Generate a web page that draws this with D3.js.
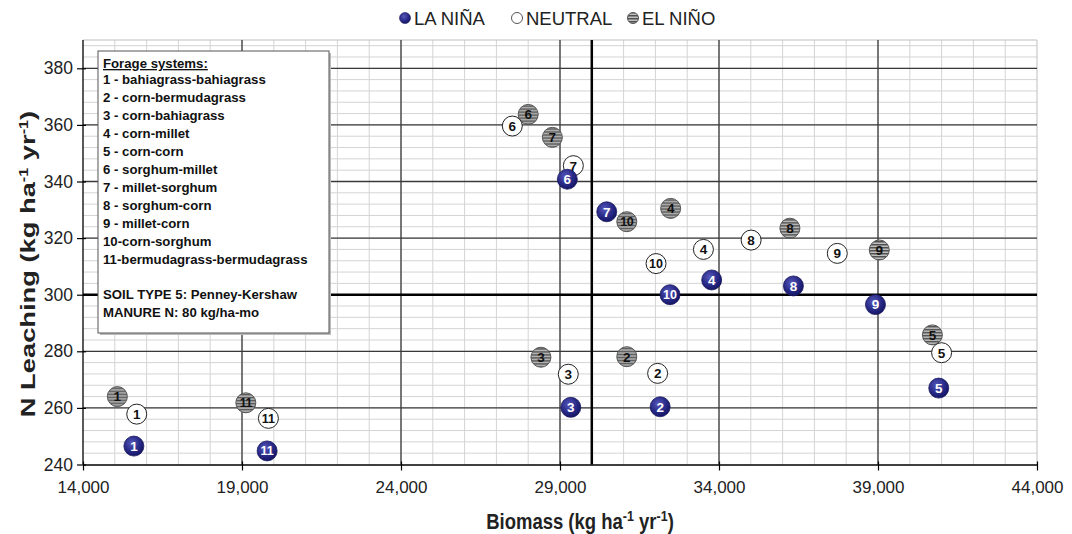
<!DOCTYPE html>
<html>
<head>
<meta charset="utf-8">
<script src="https://cdn.jsdelivr.net/npm/d3@7"></script>
<style>
  html, body { margin: 0; padding: 0; background: #fff; }
  svg { display: block; font-family: "Liberation Sans", Arial, sans-serif; }
</style>
</head>
<body>
<svg id="chart" width="1072" height="534"></svg>
<script>
// ---- data ----
const systems = ["1","2","3","4","5","6","7","8","9","10","11"];
const laNinaBiomass  = [15600, 32150, 29340, 33770, 40910, 29230, 30470, 36340, 38920, 32460, 19790];
const laNinaLeach    = [246.5, 260.4, 260.2, 305.2, 267.0, 340.8, 329.3, 303.1, 296.5, 300.0, 244.8];
const neutralBiomass = [15690, 32070, 29260, 33510, 41000, 27500, 29420, 35010, 37720, 32020, 19830];
const neutralLeach   = [257.8, 272.2, 271.9, 316.0, 279.5, 359.6, 345.6, 319.3, 314.6, 311.0, 256.3];
const elNinoBiomass  = [15080, 31100, 28400, 32480, 40710, 28000, 28760, 36230, 39040, 31100, 19120];
const elNinoLeach    = [264.0, 278.1, 277.9, 330.5, 285.8, 363.7, 355.6, 323.5, 315.8, 325.8, 261.8];
const xTicks = [14000, 19000, 24000, 29000, 34000, 39000, 44000];
const yTicks = [240, 260, 280, 300, 320, 340, 360, 380];
const legendLabels = ["LA NIÑA", "NEUTRAL", "EL NIÑO"];
const boxLines = [
  "1 - bahiagrass-bahiagrass",
  "2 - corn-bermudagrass",
  "3 - corn-bahiagrass",
  "4 - corn-millet",
  "5 - corn-corn",
  "6 - sorghum-millet",
  "7 - millet-sorghum",
  "8 - sorghum-corn",
  "9 - millet-corn",
  "10-corn-sorghum",
  "11-bermudagrass-bermudagrass"
];
const boxTitle = "Forage systems:";
const boxNotes = ["SOIL TYPE 5: Penney-Kershaw", "MANURE N: 80 kg/ha-mo"];

// ---- layout ----
const svg = d3.select("#chart");
const L = 83, R = 1037, T = 40, B = 464.5;
const x = d3.scaleLinear().domain([14000, 44000]).range([L, R]);
const y = d3.scaleLinear().domain([240, 390]).range([B, T]);

// defs
const defs = svg.append("defs");
const grad = defs.append("radialGradient").attr("id", "blueGrad")
  .attr("cx", "40%").attr("cy", "35%").attr("r", "65%");
grad.append("stop").attr("offset", "0%").attr("stop-color", "#5658bb");
grad.append("stop").attr("offset", "60%").attr("stop-color", "#2a2b88");
grad.append("stop").attr("offset", "100%").attr("stop-color", "#141566");
const pat = defs.append("pattern").attr("id", "stripes")
  .attr("patternUnits", "userSpaceOnUse").attr("width", 6).attr("height", 3);
pat.append("rect").attr("width", 6).attr("height", 3).attr("fill", "#c0c0c0");
pat.append("rect").attr("y", 0).attr("width", 6).attr("height", 1.5).attr("fill", "#505050");

// grid: minor
const g = svg.append("g");
g.selectAll(".vminor").data(d3.range(15000, 44000, 1000)).join("line")
  .attr("x1", d => x(d)).attr("x2", d => x(d)).attr("y1", T).attr("y2", B)
  .attr("stroke", "#d4d4d4").attr("stroke-width", 1);
g.selectAll(".hminor").data(d3.range(244, 390, 4)).join("line")
  .attr("x1", L).attr("x2", R).attr("y1", d => y(d)).attr("y2", d => y(d))
  .attr("stroke", "#d4d4d4").attr("stroke-width", 1);
g.append("line").attr("x1", L).attr("x2", R).attr("y1", T).attr("y2", T).attr("stroke", "#bfbfbf");
g.append("line").attr("x1", R).attr("x2", R).attr("y1", T).attr("y2", B).attr("stroke", "#bfbfbf");
// grid: major
g.selectAll(".vmajor").data(xTicks.slice(1, -1)).join("line")
  .attr("x1", d => x(d)).attr("x2", d => x(d)).attr("y1", T).attr("y2", B)
  .attr("stroke", "#3a3a3a").attr("stroke-width", 1.3);
g.selectAll(".hmajor").data(yTicks.slice(1).filter(v => v !== 300)).join("line")
  .attr("x1", L).attr("x2", R).attr("y1", d => y(d)).attr("y2", d => y(d))
  .attr("stroke", "#3a3a3a").attr("stroke-width", 1.3);
// thick reference lines
g.append("line").attr("x1", x(30000)).attr("x2", x(30000)).attr("y1", T).attr("y2", B)
  .attr("stroke", "#000").attr("stroke-width", 2.5);
g.append("line").attr("x1", L).attr("x2", R).attr("y1", y(300)).attr("y2", y(300))
  .attr("stroke", "#000").attr("stroke-width", 2.5);

// axes
const xAxis = d3.axisBottom(x).tickValues(xTicks).tickFormat(d3.format(",")).tickSizeInner(6).tickSizeOuter(0).tickPadding(10);
const yAxis = d3.axisLeft(y).tickValues(yTicks).tickSizeInner(6).tickSizeOuter(0).tickPadding(4);
const gx = svg.append("g").attr("transform", `translate(0,${B})`).call(xAxis);
const gy = svg.append("g").attr("transform", `translate(${L},0)`).call(yAxis);
gy.select(".domain").attr("d", `M0,${T}V${B}`);
[gx, gy].forEach(a => {
  a.select(".domain").attr("stroke", "#000").attr("stroke-width", 1.3);
  a.selectAll(".tick line").attr("stroke", "#000").attr("stroke-width", 1.2);
  a.selectAll(".tick text").attr("fill", "#222")
    .style("font-family", "'Liberation Sans', Arial, sans-serif");
});
gx.selectAll(".tick text").style("font-size", "17px");
gy.selectAll(".tick text").style("font-size", "17.5px");
gx.selectAll(".tick line").attr("y1", -3);
gy.selectAll(".tick line").attr("x1", 3);

// axis titles
function supTitle(sel, parts) {
  let level = 0;
  parts.forEach(([txt, sup]) => {
    const target = sup ? -7 : 0;
    const ts = sel.append("tspan").text(txt).attr("dy", target - level);
    if (sup) ts.style("font-size", "12.5px");
    level = target;
  });
}
const titleParts = (lead) => [[lead + " (kg ha", false], ["-1", true], [" yr", false], ["-1", true], [")", false]];
const xt = svg.append("text").attr("transform", "translate(580,529) scale(1,1.2)").attr("text-anchor", "middle")
  .style("font-size", "18.5px").style("font-weight", "bold").attr("fill", "#222");
supTitle(xt, titleParts("Biomass"));

const yt = svg.append("text").attr("transform", "translate(35,264) rotate(-90) scale(1.3,1)").attr("text-anchor", "middle")
  .style("font-size", "21px").style("font-weight", "bold").attr("fill", "#222");
supTitle(yt, titleParts("N Leaching"));

// info box
const bx = 98, by = 51, bw = 231, bh = 282;
svg.append("rect").attr("x", bx + 2).attr("y", by + 2).attr("width", bw).attr("height", bh).attr("fill", "#bbb");
svg.append("rect").attr("x", bx).attr("y", by).attr("width", bw).attr("height", bh)
  .attr("fill", "#fff").attr("stroke", "#555").attr("stroke-width", 1);
const bt = svg.append("g").style("font-size", "13.2px").style("font-weight", "bold").attr("fill", "#111");
bt.append("text").attr("x", 103).attr("y", 68).text(boxTitle).style("text-decoration", "underline");
bt.selectAll(".ln").data(boxLines).join("text")
  .attr("x", 103).attr("y", (d, i) => 84 + i * 18).text(d => d);
bt.selectAll(".nt").data(boxNotes).join("text")
  .attr("x", 103).attr("y", (d, i) => 299 + i * 18).text(d => d);

// points
function drawSeries(bio, leach, kind) {
  const data = systems.map((s, i) => ({ s, bx: bio[i], ly: leach[i] }));
  const gg = svg.append("g");
  const node = gg.selectAll("g").data(data).join("g")
    .attr("transform", d => `translate(${x(d.bx)},${y(d.ly)})`);
  const c = node.append("circle").attr("r", 10);
  const t = node.append("text").attr("text-anchor", "middle").attr("dy", "0.36em")
    .style("font-size", d => d.s.length > 1 ? "12.5px" : "13.5px").style("font-weight", "bold")
    .text(d => d.s);
  if (kind === "lanina") {
    c.attr("fill", "url(#blueGrad)").attr("stroke", "#1a1a5e").attr("stroke-width", 0.8);
    t.attr("fill", "#fff");
  } else if (kind === "neutral") {
    c.attr("fill", "#fff").attr("stroke", "#222").attr("stroke-width", 1);
    t.attr("fill", "#111");
  } else {
    c.attr("fill", "url(#stripes)").attr("stroke", "#555").attr("stroke-width", 1);
    t.attr("fill", "#111").style("letter-spacing", d => d.s.length > 1 ? "-0.5px" : "0");
  }
}
drawSeries(elNinoBiomass, elNinoLeach, "elnino");
drawSeries(neutralBiomass, neutralLeach, "neutral");
drawSeries(laNinaBiomass, laNinaLeach, "lanina");

// top legend
const lg = svg.append("g").style("font-size", "18.5px").attr("fill", "#222");
const legX = [405, 517, 633];
const legKinds = ["lanina", "neutral", "elnino"];
legendLabels.forEach((lab, i) => {
  const c = lg.append("circle").attr("cx", legX[i]).attr("cy", 18).attr("r", 5.5);
  if (legKinds[i] === "lanina") c.attr("fill", "url(#blueGrad)").attr("stroke", "#1a1a5e").attr("stroke-width", 0.6);
  else if (legKinds[i] === "neutral") c.attr("fill", "#fff").attr("stroke", "#555");
  else c.attr("fill", "url(#stripes)").attr("stroke", "#555");
  lg.append("text").attr("x", legX[i] + 9).attr("y", 25).text(lab);
});
</script>
</body>
</html>
